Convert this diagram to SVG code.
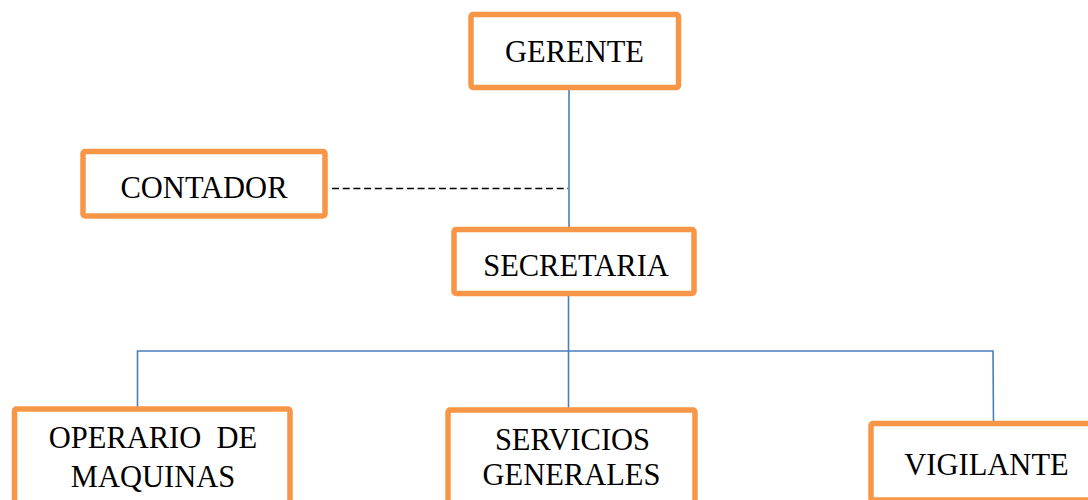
<svg xmlns="http://www.w3.org/2000/svg" width="1088" height="500" viewBox="0 0 1088 500">
<style>
.box{fill:#fff;stroke:#F79646;stroke-width:5.5}
.t{font-family:"Liberation Serif","Times New Roman",serif;font-size:30.5px;fill:#000;text-anchor:middle}
.ln{fill:none;stroke:#4A7EBB;stroke-width:1.6}
.dash{fill:none;stroke:#000;stroke-width:1.6;stroke-dasharray:7 3.7}
</style>
<rect width="1088" height="500" fill="#fff"/>
<g id="connectors">
<line class="dash" x1="332" y1="188.5" x2="568" y2="188.5"/>
<line class="ln" x1="569" y1="88" x2="569" y2="229"/>
<line class="ln" x1="568.5" y1="294" x2="568.5" y2="410"/>
<polyline class="ln" points="137.5,411 137.5,351 993,351 993.5,425"/>
</g>
<g id="gerente">
<rect class="box" x="471" y="14.5" width="207.5" height="73" rx="2"/>
<text class="t" x="574.5" y="62">GERENTE</text>
</g>
<g id="contador">
<rect class="box" x="83" y="151.5" width="242" height="64.5" rx="2"/>
<text class="t" x="204" y="198">CONTADOR</text>
</g>
<g id="secretaria">
<rect class="box" x="454" y="229.5" width="240" height="64" rx="2"/>
<text class="t" x="576" y="276">SECRETARIA</text>
</g>
<g id="operario">
<rect class="box" x="14.5" y="409" width="275.5" height="110" rx="2"/>
<text class="t" x="153" y="448" xml:space="preserve">OPERARIO  DE</text>
<text class="t" x="153" y="487">MAQUINAS</text>
</g>
<g id="servicios">
<rect class="box" x="448" y="410" width="247" height="110" rx="2"/>
<text class="t" x="572.5" y="450">SERVICIOS</text>
<text class="t" x="571.5" y="485">GENERALES</text>
</g>
<g id="vigilante">
<rect class="box" x="871" y="423.5" width="231" height="76.5" rx="2"/>
<text class="t" x="986.5" y="475">VIGILANTE</text>
</g>
</svg>
